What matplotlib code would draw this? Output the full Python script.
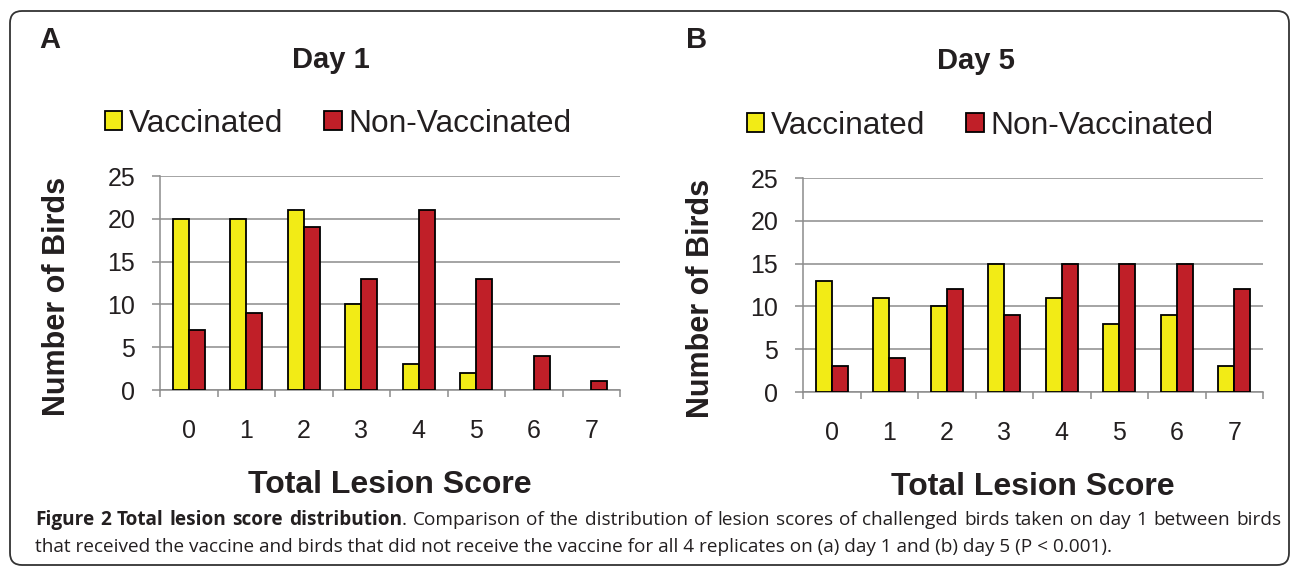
import numpy as np
import matplotlib.pyplot as plt
from matplotlib.patches import FancyBboxPatch

# lesion score categories and bird counts
scores = ["0", "1", "2", "3", "4", "5", "6", "7"]
day1_vacc = [20, 20, 21, 10, 3, 2, 0, 0]
day1_nonvacc = [7, 9, 19, 13, 21, 13, 4, 1]
day5_vacc = [13, 11, 10, 15, 11, 8, 9, 3]
day5_nonvacc = [3, 4, 12, 9, 15, 15, 15, 12]
yticks = [0, 5, 10, 15, 20, 25]

caption_bold = "Figure 2 Total lesion score distribution"
caption_rest = (". Comparison of the distribution of lesion scores of challenged birds "
                "taken on day 1 between birds")
caption_line2 = ("that received the vaccine and birds that did not receive the vaccine "
                 "for all 4 replicates on (a) day 1 and (b) day 5 (P < 0.001).")

YELLOW = "#f2eb16"
RED = "#c01f28"
GRID = "#8c8c8c"
TXT = "#231f20"

plt.rcParams['font.family'] = ['Liberation Sans', 'DejaVu Sans']

W, H = 1293, 567
fig = plt.figure(figsize=(W / 100, H / 100), dpi=100)

# pixel-space background axes for frame and loose texts
bg = fig.add_axes([0, 0, 1, 1])
bg.set_xlim(0, W)
bg.set_ylim(H, 0)
bg.axis("off")
bg.add_patch(FancyBboxPatch((10, 11), 1279, 554, boxstyle="round,pad=0,rounding_size=12",
                            fill=False, edgecolor="#333333", linewidth=1.3))


def panel(left, top, vacc, nonvacc):
    ax = fig.add_axes([left / W, 1 - (top + 214) / H, 460 / W, 214 / H])
    x = np.arange(len(scores))
    w = 0.28
    lw_v = [1.3 if v > 0 else 0 for v in vacc]
    lw_n = [1.3 if v > 0 else 0 for v in nonvacc]
    ax.bar(x - w / 2, vacc, w, color=YELLOW, edgecolor="black", linewidth=lw_v,
           label="Vaccinated", zorder=3)
    ax.bar(x + w / 2, nonvacc, w, color=RED, edgecolor="black", linewidth=lw_n,
           label="Non-Vaccinated", zorder=3)
    ax.set_xlim(-0.5, len(scores) - 0.5)
    ax.set_ylim(0, 25)
    ax.set_yticks(yticks)
    ax.grid(axis="y", color=GRID, linewidth=1.1, zorder=0)
    ax.set_axisbelow(True)
    for s in ["top", "right"]:
        ax.spines[s].set_visible(False)
    for s in ["left", "bottom"]:
        ax.spines[s].set_color(GRID)
        ax.spines[s].set_linewidth(1.1)
    ax.set_xticks(np.arange(-0.5, len(scores)), labels=[""] * (len(scores) + 1))
    ax.set_xticks(x, labels=scores, minor=True)
    ax.tick_params(axis="x", which="major", length=5, width=1.1, color=GRID)
    ax.tick_params(axis="x", which="minor", length=0, pad=21, labelsize=18, labelcolor=TXT)
    ax.tick_params(axis="y", length=5.8, width=1.1, color=GRID, pad=12,
                   labelsize=18, labelcolor=TXT)
    return ax


axA = panel(160, 176, day1_vacc, day1_nonvacc)
axB = panel(803, 178, day5_vacc, day5_nonvacc)

for ax, lx, ly in [(axA, 105, 124), (axB, 747, 126)]:
    ax.legend(loc="center left", bbox_to_anchor=(lx / W, 1 - ly / H),
              bbox_transform=fig.transFigure, ncol=2, frameon=False, fontsize=22.8,
              handlelength=0.55, handleheight=0.55, handletextpad=0.2,
              columnspacing=1.3, borderpad=0, borderaxespad=0, labelcolor=TXT)

bold = dict(fontweight="bold", color=TXT)
bg.text(39, 40, "A", fontsize=21, ha="left", va="center", **bold)
bg.text(686, 40, "B", fontsize=21, ha="left", va="center", **bold)
bg.text(331, 60, "Day 1", fontsize=21, ha="center", va="center", **bold)
bg.text(976, 61, "Day 5", fontsize=21, ha="center", va="center", **bold)
bg.text(57, 296, "Number of Birds", fontsize=22, rotation=90, ha="center", va="center", **bold)
bg.text(701, 298, "Number of Birds", fontsize=22, rotation=90, ha="center", va="center", **bold)
bg.text(390, 485, "Total Lesion Score", fontsize=23, ha="center", va="center", **bold)
bg.text(1033, 487, "Total Lesion Score", fontsize=23, ha="center", va="center", **bold)

# caption, fitted to the widths in the reference
fig.canvas.draw()
r = fig.canvas.get_renderer()
cap = dict(family=["Open Sans", "DejaVu Sans"], color=TXT, va="baseline", ha="left")
t2 = bg.text(35, 552, caption_line2, fontsize=12, **cap)
fs = 12 * 1077 / t2.get_window_extent(r).width
t2.set_fontsize(fs)


def px_width(t):
    bb = t.get_window_extent(r)
    return bb.width


# first line is justified between x=35 and x=1281
words = [(w, "bold") for w in caption_bold.split()]
rest = caption_rest.split()
words[-1] = (words[-1][0], "bold", rest[0])  # "distribution" followed by "."
words += [(w, "normal") for w in rest[1:]]
pieces = []
total = 0
for item in words:
    t = bg.text(0, 525, item[0], fontsize=fs, fontweight=item[1], **cap)
    wd = px_width(t)
    extra = None
    if len(item) == 3:
        extra = bg.text(0, 525, item[2], fontsize=fs, **cap)
        wd += px_width(extra)
    pieces.append((t, extra))
    total += wd
gap = (1281 - 35 - total) / (len(pieces) - 1)
xpos = 35
for t, extra in pieces:
    t.set_x(xpos)
    xpos += px_width(t)
    if extra is not None:
        extra.set_x(xpos)
        xpos += px_width(extra)
    xpos += gap

fig.savefig("out.png", dpi=100)
